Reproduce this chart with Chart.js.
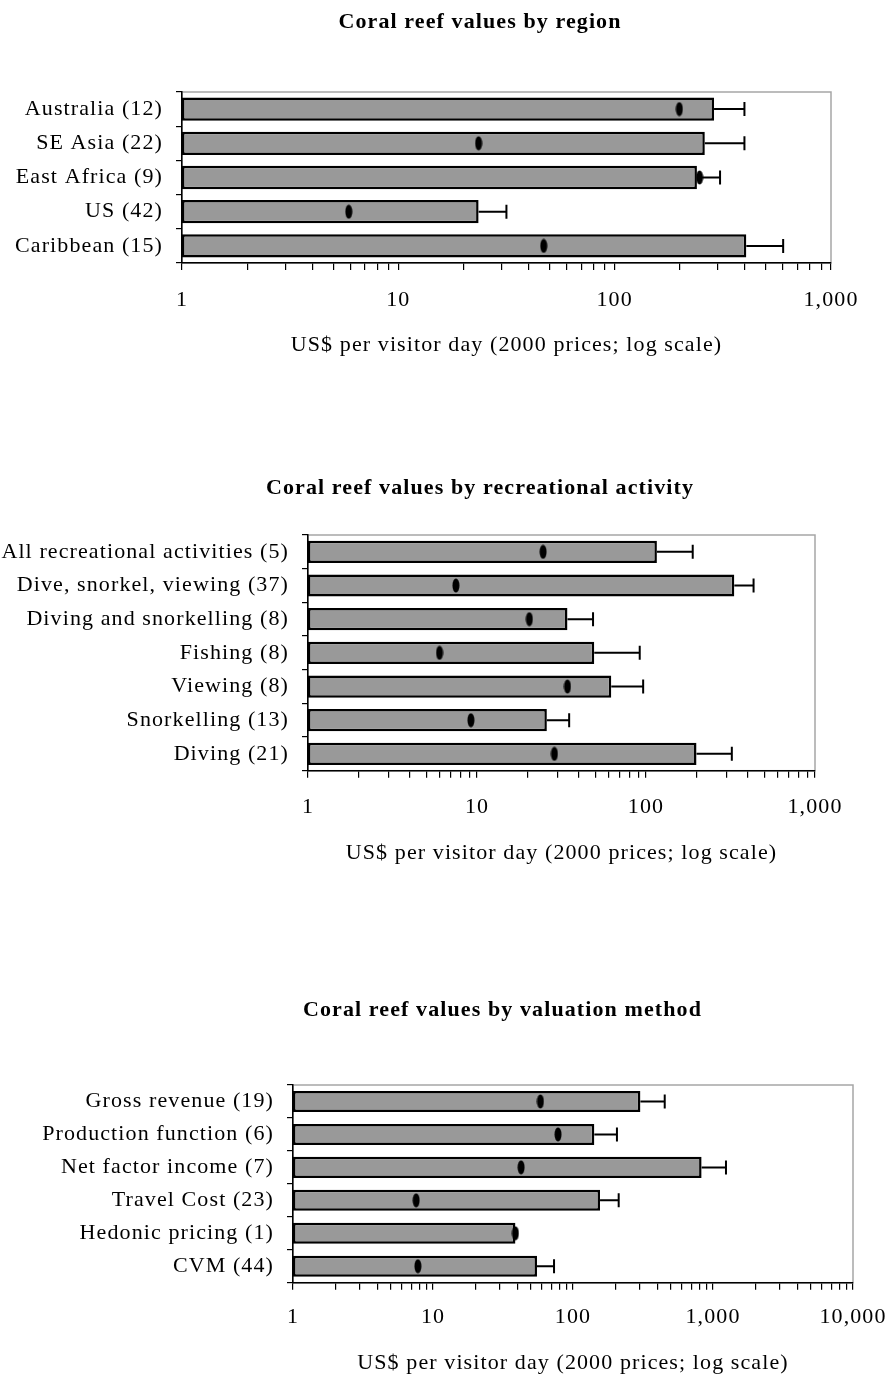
<!DOCTYPE html>
<html>
<head>
<meta charset="utf-8">
<title>Coral reef values</title>
<script src="https://cdn.jsdelivr.net/npm/chart.js@4.4.1/dist/chart.umd.min.js"></script>
<style>
  html, body { margin: 0; padding: 0; background: #fff; overflow: hidden; width: 891px; height: 1381px; }
  .box { position: absolute; left: 0; }
</style>
</head>
<body>
<div class="box" style="top:0px"><canvas id="chartRegion" width="960" height="366"></canvas></div>
<div class="box" style="top:440px"><canvas id="chartActivity" width="960" height="435"></canvas></div>
<div class="box" style="top:960px"><canvas id="chartMethod" width="1005" height="421"></canvas></div>
<script>
// --- data (US$ per visitor day) ---
const regionLabels = ['Australia (12)', 'SE Asia (22)', 'East Africa (9)', 'US (42)', 'Caribbean (15)'];
const regionMean = [288, 261, 240, 23.5, 406];
const regionUpper = [398, 398, 307, 31.6, 601];
const regionMedian = [199, 23.5, 247, 5.9, 47];

const activityLabels = ['All recreational activities (5)', 'Dive, snorkel, viewing (37)', 'Diving and snorkelling (8)',
  'Fishing (8)', 'Viewing (8)', 'Snorkelling (13)', 'Diving (21)'];
const activityMean = [116, 333, 34.3, 49.4, 62.3, 25.9, 199];
const activityUpper = [189, 433, 48.6, 91.8, 96.2, 35.1, 322];
const activityMedian = [24.6, 7.5, 20.4, 6.0, 34.3, 9.2, 28.7];

const methodLabels = ['Gross revenue (19)', 'Production function (6)', 'Net factor income (7)',
  'Travel Cost (23)', 'Hedonic pricing (1)', 'CVM (44)'];
const methodMean = [303, 142, 829, 156, 38.8, 55.3];
const methodUpper = [452, 206, 1238, 212, null, 73.2];
const methodMedian = [58.5, 78.2, 42.6, 7.58, 38.8, 7.8];

const ticksTo1000 = [1, 10, 100, 1000];
const tickLabelsTo1000 = ['1', '10', '100', '1,000'];
const ticksTo10000 = [1, 10, 100, 1000, 10000];
const tickLabelsTo10000 = ['1', '10', '100', '1,000', '10,000'];

const xTitle = 'US$ per visitor day (2000 prices; log scale)';

Chart.defaults.font.family = "'Liberation Serif', 'Times New Roman', serif";
Chart.defaults.font.size = 22;
Chart.defaults.color = '#000';

// black oval marker used for the median points
const dot = document.createElement('canvas');
dot.width = 8;
dot.height = 15;
(function () {
  const c = dot.getContext('2d');
  c.fillStyle = '#000';
  c.beginPath();
  c.ellipse(4, 7.5, 3.5, 7, 0, 0, Math.PI * 2);
  c.fill();
})();

// minor ticks 2..9 in each decade
function logTickValues(majors) {
  const vals = [];
  for (let i = 0; i < majors.length - 1; i++) {
    for (let k = 1; k < 10; k++) vals.push(majors[i] * k);
  }
  vals.push(majors[majors.length - 1]);
  return vals;
}

const spacing = {
  id: 'spacing',
  beforeUpdate(chart) { chart.ctx.letterSpacing = '1.1px'; },
  beforeDraw(chart) { chart.ctx.letterSpacing = '1.1px'; }
};

const frame = {
  id: 'frame',
  beforeDraw(chart) {
    const a = chart.chartArea, ctx = chart.ctx;
    ctx.save();
    ctx.strokeStyle = '#a6a6a6';
    ctx.lineWidth = 1.5;
    ctx.strokeRect(a.left, a.top, a.right - a.left, a.bottom - a.top);
    ctx.restore();
  }
};

// whiskers on the right end of each bar
const whiskers = {
  id: 'whiskers',
  afterDatasetDraw(chart, args) {
    if (args.index !== 0) return;
    const ds = chart.data.datasets[0];
    const xs = chart.scales.x, ctx = chart.ctx;
    ctx.save();
    ctx.strokeStyle = '#000';
    ctx.lineWidth = 2;
    args.meta.data.forEach((bar, i) => {
      const hi = ds.errorHigh[i];
      if (hi == null) return;
      const x1 = xs.getPixelForValue(hi);
      ctx.beginPath();
      ctx.moveTo(bar.x, bar.y);
      ctx.lineTo(x1, bar.y);
      ctx.moveTo(x1, bar.y - 7);
      ctx.lineTo(x1, bar.y + 7);
      ctx.stroke();
    });
    ctx.restore();
  }
};

function makeChart(id, p) {
  return new Chart(document.getElementById(id), {
    type: 'bar',
    data: {
      labels: p.labels,
      datasets: [{
        type: 'bar',
        data: p.mean,
        errorHigh: p.upper,
        backgroundColor: '#999999',
        borderColor: '#000',
        borderWidth: 2.5,
        borderSkipped: false,
        barPercentage: 1,
        categoryPercentage: p.barPct,
        order: 1
      }, {
        type: 'line',
        indexAxis: 'y',
        data: p.median,
        showLine: false,
        pointStyle: dot,
        pointRadius: 6,
        order: 0
      }]
    },
    options: {
      indexAxis: 'y',
      responsive: false,
      animation: false,
      layout: { padding: 0 },
      plugins: {
        legend: { display: false },
        tooltip: { enabled: false },
        title: {
          display: true,
          text: p.title,
          color: '#000',
          font: { size: 22, weight: 'bold' },
          padding: { top: p.titleTop, bottom: p.titleBottom }
        }
      },
      scales: {
        x: {
          type: 'logarithmic',
          position: 'bottom',
          min: p.ticks[0],
          max: p.ticks[p.ticks.length - 1],
          afterBuildTicks(scale) {
            scale.ticks = logTickValues(p.ticks).map(v => ({ value: v, major: p.ticks.includes(v) }));
          },
          afterFit(scale) {
            scale.height = p.xHeight;
            scale.paddingRight = p.rightPad;
          },
          ticks: {
            autoSkip: false,
            maxRotation: 0,
            padding: p.tickPad,
            callback(value) {
              const i = p.ticks.indexOf(value);
              return i >= 0 ? p.tickLabels[i] : '';
            }
          },
          grid: { drawOnChartArea: false, drawTicks: true, tickLength: 7, color: '#000', lineWidth: 1.2 },
          border: { color: '#000', width: 1.5 },
          title: { display: true, text: xTitle, color: '#000', padding: { top: 0, bottom: p.xTitleBottom } }
        },
        y: {
          type: 'category',
          position: 'left',
          afterFit(scale) { scale.width = p.axisWidth; },
          ticks: { autoSkip: false, padding: 13 },
          grid: { drawOnChartArea: false, drawTicks: true, tickLength: 6, color: '#000', offset: true, lineWidth: 1.2 },
          border: { color: '#000', width: 1.5 }
        }
      }
    },
    plugins: [spacing, frame, whiskers]
  });
}

makeChart('chartRegion', {
  title: 'Coral reef values by region',
  labels: regionLabels, mean: regionMean, upper: regionUpper, median: regionMedian,
  ticks: ticksTo1000, tickLabels: tickLabelsTo1000,
  barPct: 0.68, axisWidth: 182, rightPad: 129,
  titleTop: 8.8, titleBottom: 56.8, xHeight: 103, tickPad: 16.8, xTitleBottom: 7.8
});

makeChart('chartActivity', {
  title: 'Coral reef values by recreational activity',
  labels: activityLabels, mean: activityMean, upper: activityUpper, median: activityMedian,
  ticks: ticksTo1000, tickLabels: tickLabelsTo1000,
  barPct: 0.66, axisWidth: 308, rightPad: 145,
  titleTop: 34.8, titleBottom: 33.8, xHeight: 104.3, tickPad: 16.1, xTitleBottom: 8.8
});

makeChart('chartMethod', {
  title: 'Coral reef values by valuation method',
  labels: methodLabels, mean: methodMean, upper: methodUpper, median: methodMedian,
  ticks: ticksTo10000, tickLabels: tickLabelsTo10000,
  barPct: 0.64, axisWidth: 293, rightPad: 152,
  titleTop: 36.8, titleBottom: 61.8, xHeight: 98.3, tickPad: 14.1, xTitleBottom: 4.8
});
</script>
</body>
</html>
